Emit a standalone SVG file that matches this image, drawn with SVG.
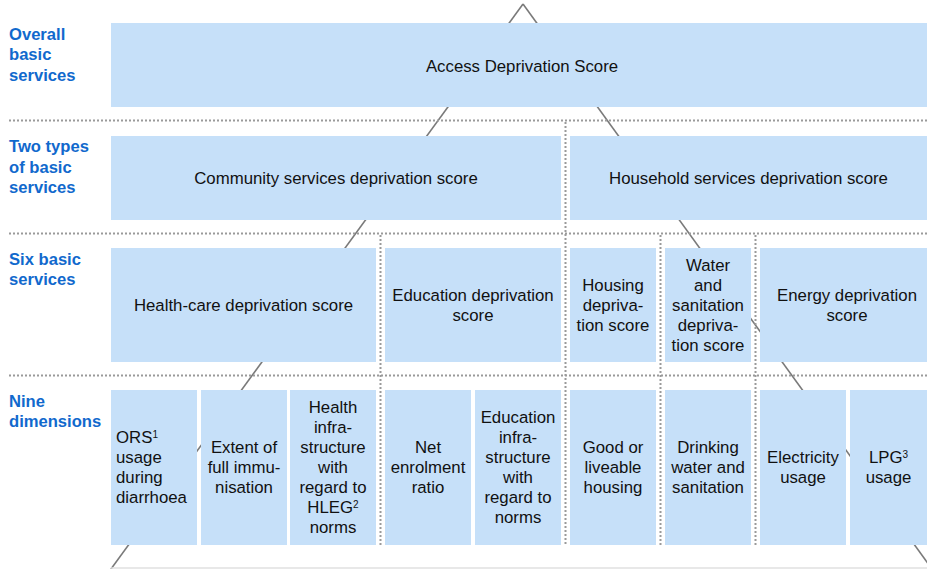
<svg xmlns="http://www.w3.org/2000/svg" width="927" height="569" viewBox="0 0 927 569">
<style>
.box{fill:#c6e0f9}
.t{font-family:"Liberation Sans",Arial,sans-serif;font-size:16.8px;fill:#111;text-anchor:middle}
.tl{text-anchor:start}
.lab{font-family:"Liberation Sans",Arial,sans-serif;font-size:16.6px;font-weight:bold;fill:#1169cd}
.dot{stroke:#9a9a9a;stroke-width:2;stroke-dasharray:2 2;fill:none}
.tri{stroke:#7a7a7a;stroke-width:1.6;fill:none}
.sup{font-size:10px}
</style>
<rect width="927" height="569" fill="#fff"/>
<g id="connectors">
<line class="tri" x1="523" y1="4" x2="111" y2="569"/>
<line class="tri" x1="523" y1="4" x2="932" y2="569"/>
<line x1="111" y1="568" x2="927" y2="568" stroke="#e0e0e0" stroke-width="1.5"/>
<line class="dot" x1="9" y1="120.5" x2="927" y2="120.5"/>
<line class="dot" x1="9" y1="233.5" x2="927" y2="233.5"/>
<line class="dot" x1="9" y1="375.5" x2="927" y2="375.5"/>
<line class="dot" x1="565.5" y1="122" x2="565.5" y2="546"/>
<line class="dot" x1="380.5" y1="235" x2="380.5" y2="546"/>
<line class="dot" x1="660.5" y1="235" x2="660.5" y2="546"/>
<line class="dot" x1="755.5" y1="235" x2="755.5" y2="546"/>
</g>
<g id="labels">
<text class="lab" x="9" y="40">Overall</text>
<text class="lab" x="9" y="60">basic</text>
<text class="lab" x="9" y="81">services</text>
<text class="lab" x="9" y="152">Two types</text>
<text class="lab" x="9" y="172.5">of basic</text>
<text class="lab" x="9" y="193">services</text>
<text class="lab" x="9" y="265">Six basic</text>
<text class="lab" x="9" y="285">services</text>
<text class="lab" x="9" y="407">Nine</text>
<text class="lab" x="9" y="427">dimensions</text>
</g>
<g id="ads"><rect class="box" x="111" y="23" width="816" height="84"/><text class="t" x="522" y="72">Access Deprivation Score</text></g>
<g id="community"><rect class="box" x="111" y="136" width="450" height="84"/><text class="t" x="336" y="184">Community services deprivation score</text></g>
<g id="household"><rect class="box" x="570" y="136" width="357" height="84"/><text class="t" x="748.5" y="184">Household services deprivation score</text></g>
<g id="healthcare"><rect class="box" x="111" y="248" width="265" height="114"/><text class="t" x="243.5" y="311">Health-care deprivation score</text></g>
<g id="education"><rect class="box" x="385" y="248" width="176" height="114"/><text class="t" x="473" y="301">Education deprivation</text><text class="t" x="473" y="321">score</text></g>
<g id="housing"><rect class="box" x="570" y="248" width="86" height="114"/><text class="t" x="613" y="291">Housing</text><text class="t" x="613" y="311">depriva-</text><text class="t" x="613" y="331">tion score</text></g>
<g id="water"><rect class="box" x="665" y="248" width="86" height="114"/><text class="t" x="708" y="271">Water</text><text class="t" x="708" y="291">and</text><text class="t" x="708" y="311">sanitation</text><text class="t" x="708" y="331">depriva-</text><text class="t" x="708" y="351">tion score</text></g>
<g id="energy"><rect class="box" x="760" y="248" width="167" height="114"/><text class="t" x="847" y="301">Energy deprivation</text><text class="t" x="847" y="321">score</text></g>
<g id="ors"><rect class="box" x="111" y="390" width="86" height="155"/><text class="t tl" x="116" y="443">ORS<tspan class="sup" dy="-5">1</tspan></text><text class="t tl" x="116" y="463">usage</text><text class="t tl" x="116" y="483">during</text><text class="t tl" x="116" y="503">diarrhoea</text></g>
<g id="immunisation"><rect class="box" x="201" y="390" width="86" height="155"/><text class="t" x="244" y="453">Extent of</text><text class="t" x="244" y="473">full immu-</text><text class="t" x="244" y="493">nisation</text></g>
<g id="healthinfra"><rect class="box" x="290" y="390" width="86" height="155"/><text class="t" x="333" y="413">Health</text><text class="t" x="333" y="433">infra-</text><text class="t" x="333" y="453">structure</text><text class="t" x="333" y="473">with</text><text class="t" x="333" y="493">regard to</text><text class="t" x="333" y="513">HLEG<tspan class="sup" dy="-5">2</tspan></text><text class="t" x="333" y="533">norms</text></g>
<g id="enrolment"><rect class="box" x="385" y="390" width="86" height="155"/><text class="t" x="428" y="453">Net</text><text class="t" x="428" y="473">enrolment</text><text class="t" x="428" y="493">ratio</text></g>
<g id="eduinfra"><rect class="box" x="475" y="390" width="86" height="155"/><text class="t" x="518" y="423">Education</text><text class="t" x="518" y="443">infra-</text><text class="t" x="518" y="463">structure</text><text class="t" x="518" y="483">with</text><text class="t" x="518" y="503">regard to</text><text class="t" x="518" y="523">norms</text></g>
<g id="goodhousing"><rect class="box" x="570" y="390" width="86" height="155"/><text class="t" x="613" y="453">Good or</text><text class="t" x="613" y="473">liveable</text><text class="t" x="613" y="493">housing</text></g>
<g id="drinking"><rect class="box" x="665" y="390" width="86" height="155"/><text class="t" x="708" y="453">Drinking</text><text class="t" x="708" y="473">water and</text><text class="t" x="708" y="493">sanitation</text></g>
<g id="electricity"><rect class="box" x="760" y="390" width="86" height="155"/><text class="t" x="803" y="463">Electricity</text><text class="t" x="803" y="483">usage</text></g>
<g id="lpg"><rect class="box" x="850" y="390" width="77" height="155"/><text class="t" x="888.5" y="463">LPG<tspan class="sup" dy="-5">3</tspan></text><text class="t" x="888.5" y="483">usage</text></g>
</svg>
